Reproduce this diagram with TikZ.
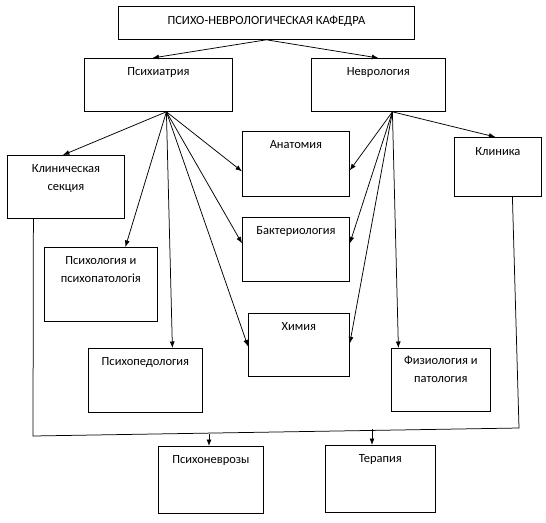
\documentclass[tikz,border=0pt]{standalone}
\usepackage{fontspec}
\setmainfont{Carlito}
\usetikzlibrary{arrows.meta}
\tikzset{
  box/.style={draw, line width=0.8pt, rectangle, inner sep=0pt, anchor=north west},
  lbl/.style={anchor=base, inner sep=0pt, align=center, font={\fontsize{12.5}{18}\selectfont}},
  arr/.style={line width=0.75pt, -{Latex[length=6.5pt,width=5pt]}},
  ln/.style={line width=0.75pt}
}
\newcommand{\mkbox}[7][17]{% [baseline offset] name, x1, y1, x2, y2, text
  \node[box, minimum width={#5-#3}, minimum height={#6-#4}] (#2) at (#3,#4) {};
  \node[lbl] (#2t) at ([yshift=-#1pt]#2.north) {#7};
}
\begin{document}
\begin{tikzpicture}[x=1pt,y=-1pt]
\useasboundingbox (0,0) rectangle (546,522);
\node[box, minimum width=296, minimum height=33] (top) at (118,6) {};
\node[lbl] (topt) at ([yshift=-18pt]top.north) {ПСИХО-НЕВРОЛОГИЧЕСКАЯ КАФЕДРА};
\mkbox{psi}{84}{58}{232}{111}{Психиатрия}
\mkbox{nev}{311}{58}{445}{111}{Неврология}
\mkbox[35]{kl}{7}{155}{124}{218}{Клиническая\\секция}
\mkbox[35]{psl}{44}{247}{157}{321}{Психология и\\психопатологія}
\mkbox{an}{242}{131}{349}{196}{Анатомия}
\mkbox{bak}{242}{217}{349}{281}{Бактериология}
\mkbox{khi}{248}{313}{349}{376}{Химия}
\mkbox{ped}{88}{348}{202}{412}{Психопедология}
\mkbox[18]{kli}{454}{137}{541}{196}{Клиника}
\mkbox[34]{fiz}{391}{348}{490}{411}{Физиология и\\патология}
\mkbox{psn}{158}{446}{263}{513}{Психоневрозы}
\mkbox{ter}{325}{445}{435}{512}{Терапия}
% top arrows
\draw[arr] (top.south) -- ([xshift=-6pt]psi.north);
\draw[arr] (top.south) -- (nev.north);
% psychiatry
\coordinate (ps) at ([xshift=8pt]psi.south);
\draw[arr] (ps) -- ([xshift=-3pt]kl.north);
\draw[arr] (ps) -- ([xshift=24.5pt]psl.north);
\draw[arr] (ps) -- ([xshift=27pt]ped.north);
\draw[arr] (ps) -- ([yshift=-7.5pt]an.west);
\draw[arr] (ps) -- ([yshift=6pt]bak.west);
\draw[arr] (ps) -- ([yshift=-1.5pt]khi.west);
% neurology
\coordinate (ns) at ([xshift=14pt]nev.south);
\draw[arr] (ns) -- ([xshift=-2.5pt]kli.north);
\draw[arr] (ns) -- ([yshift=-6.5pt]an.east);
\draw[arr] (ns) -- ([yshift=6pt]bak.east);
\draw[arr] (ns) -- ([yshift=1.5pt]khi.east);
\draw[arr] (ns) -- ([xshift=-42.5pt]fiz.north);
% bottom bus
\coordinate (bl) at (33,436);
\coordinate (br) at (519,428);
\draw[ln] ([xshift=-32.5pt]kl.south) -- (bl) -- (br) -- ([xshift=14.5pt]kli.south);
\coordinate (b1) at (209,434);
\coordinate (b2) at (372,429);
\draw[arr] (b1) -- (b1 |- psn.north);
\draw[arr] (b2) -- (b2 |- ter.north);
\end{tikzpicture}
\end{document}
